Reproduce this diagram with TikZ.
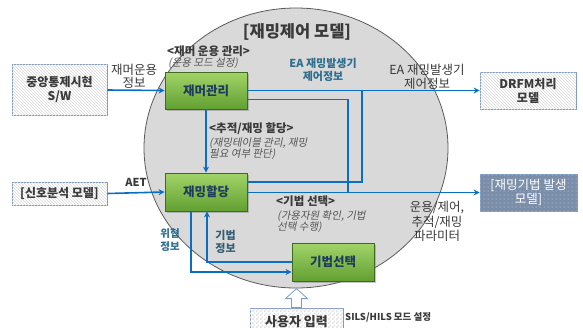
\documentclass[tikz,border=0pt]{standalone}
\usepackage{fontspec}
\setmainfont{Noto Sans CJK KR}[AutoFakeSlant=0.2]
\usetikzlibrary{patterns,shadows,arrows.meta,calc}
\pgfdeclarepatternformonly{smallchecker}{\pgfpointorigin}{\pgfpoint{4pt}{4pt}}{\pgfpoint{4pt}{4pt}}{%
  \pgfpathrectangle{\pgfpointorigin}{\pgfpoint{2pt}{2pt}}%
  \pgfpathrectangle{\pgfpoint{2pt}{2pt}}{\pgfpoint{2pt}{2pt}}%
  \pgfusepath{fill}}
\pgfdeclarepatternformonly{sparsedots}{\pgfpoint{-1pt}{-1pt}}{\pgfpoint{1pt}{1pt}}{\pgfpoint{4pt}{4pt}}{%
  \pgfpathcircle{\pgfpointorigin}{0.5pt}%
  \pgfusepath{fill}}
\definecolor{lnblue}{HTML}{0A6FC2}
\definecolor{circfill}{HTML}{D9D9D9}
\definecolor{circline}{HTML}{5A5A5A}
\definecolor{boxline}{HTML}{7F9CC0}
\definecolor{gtop}{HTML}{A2D468}
\definecolor{gbot}{HTML}{62A032}
\definecolor{gline}{HTML}{3F6B1F}
\definecolor{navy}{HTML}{1F3A5F}
\definecolor{teal}{HTML}{2E6E8E}
\definecolor{dteal}{HTML}{2F5D73}
\definecolor{txt}{HTML}{3A3A3A}
\definecolor{itxt}{HTML}{555555}
\definecolor{slate}{HTML}{7B8EA9}
\tikzset{
  greenbox/.style={draw=gline, line width=0.8pt, top color=gtop, bottom color=gbot,
    minimum width=82pt, minimum height=37pt, inner sep=0pt,
    font=\fontsize{12.5}{14}\selectfont\bfseries, text=navy,
    drop shadow={opacity=0.45, shadow xshift=1.5pt, shadow yshift=-1.5pt}},
  hatchbox/.style={draw=boxline, line width=0.8pt, fill=white,
    postaction={pattern=north west lines, pattern color=gray!30},
    inner sep=0pt, align=center, text=txt,
    font=\fontsize{12}{14}\selectfont\bfseries},
  flow/.style={draw=lnblue, line width=1.6pt},
  flowarrow/.style={flow, -{Stealth[length=6pt,width=6pt]}},
  lbl/.style={align=center, text=txt, font=\fontsize{12.5}{13.5}\selectfont, inner sep=0pt},
  tlbl/.style={align=center, text=teal, font=\fontsize{11}{13}\selectfont\bfseries, inner sep=0pt},
  hd/.style={anchor=west, text=txt, font=\fontsize{11.5}{12}\selectfont\bfseries, inner sep=0pt},
  it/.style={anchor=west, align=left, text=itxt, font=\fontsize{10.5}{11.5}\selectfont\itshape, inner sep=0pt},
}
\begin{document}
\begin{tikzpicture}[x=1pt,y=-1pt]
\useasboundingbox (0,0) rectangle (583,327);
% big circle
\draw[fill=circfill, draw=circline, line width=0.8pt] (296,148) ellipse [x radius=152, y radius=140];
\node[font=\fontsize{16.5}{18}\selectfont\bfseries, text=txt, inner sep=0pt] (title) at (297,32) {[재밍제어 모델]};

% nodes
\node[hatchbox, minimum width=95pt, minimum height=51pt] (cs) at (59.5,90) {중앙통제시현\\S/W};
\node[hatchbox, minimum width=95pt, minimum height=23pt] (sa) at (59.5,193.5) {[신호분석 모델]};
\node[hatchbox, minimum width=96pt, minimum height=37pt] (drfm) at (528,90.5) {DRFM처리\\모델};
\node[draw=boxline, line width=0.8pt, fill=slate, postaction={pattern=sparsedots, pattern color=white!60!slate},
  minimum width=97pt, minimum height=37pt, inner sep=0pt, align=center, text=white,
  font=\fontsize{12.5}{14}\selectfont] (jg) at (528.5,192.5) {[재밍기법 발생\\모델]};
\node[draw=boxline, line width=0.8pt, fill=white, postaction={pattern=smallchecker, pattern color=gray!22},
  minimum width=93pt, minimum height=28pt, inner sep=0pt, text=txt,
  font=\fontsize{13}{14}\selectfont\bfseries] (ui) at (296.5,322) {사용자 입력};

\node[greenbox] (jm) at (206,90.5) {재머관리};
\node[greenbox, minimum height=38pt] (ja) at (206,192) {재밍할당};
\node[greenbox, minimum height=38pt] (gs) at (333,262) {기법선택};

% junction coordinates
\coordinate (jmlow) at ($(jm.east)+(0,9)$);
\coordinate (jahigh) at ($(ja.east)+(0,-10)$);
\coordinate (jaout) at ($(ja.east)+(0,0.5)$);
\coordinate (jgin) at (jg.west);
\coordinate (jaL) at ($(ja.south)+(-15,0)$);
\coordinate (jaR) at ($(ja.south)+(1,0)$);
\coordinate (gsin) at ($(gs.west)+(0,10)$);
\coordinate (gsout) at (gs.west);

% connectors
\draw[flowarrow] (cs.east) -- (jm.west);
\draw[flowarrow] (jm.east) -- (drfm.west);
\draw[flow] (jmlow) -| (348,192.5);
\draw[flow] (jahigh) -| (362,90.5);
\draw[flowarrow] (jaout) -- (jgin);
\draw[flowarrow] (jm.south) -- (ja.north);
\draw[flowarrow] (sa.east) -- (ja.west);
\draw[flowarrow] (jaL) |- (gsin);
\draw[flowarrow] (gsout) -| (jaR);

% hollow input arrow
\draw[draw=boxline, fill=white, line width=0.8pt]
  (ui.north) ++(-5,0) coordinate (ha1) -- ++(0,-9) -- ++(-6,0) -- ++(11,-10) -- ++(11,10) -- ++(-6,0) -- ++(0,9) -- cycle;

% labels
\node[lbl] (l1) at (134,76.5) {재머운용\\정보};
\node[hd] (h1) at (167,51) {<재머 운용 관리>};
\node[it] (i1) at (168,63.5) {(운용 모드 설정)};
\node[tlbl] (l2) at (323,69.5) {EA 재밍발생기\\제어정보};
\node[lbl] (l3) at (427,77) {EA 재밍발생기\\제어정보};
\node[hd] (h2) at (209,129) {<추적/재밍 할당>};
\node[it] (i2) at (209,148.5) {(재밍테이블 관리, 재밍\\필요 여부 판단)};
\node[font=\fontsize{11}{12}\selectfont\bfseries, text=txt, inner sep=0pt] (aet) at (136,182) {AET};
\node[hd] (h3) at (276,201) {<기법 선택>};
\node[it] (i3) at (277,221.5) {(가용자원 확인, 기법\\선택 수행)};
\node[lbl, font=\fontsize{12.5}{14.5}\selectfont] (l4) at (437,221.5) {운용/제어,\\추적/재밍\\파라미터};
\node[tlbl, font=\fontsize{10.5}{13}\selectfont\bfseries] (l5) at (170,240.5) {위협\\정보};
\node[tlbl, text=dteal] (l6) at (225.5,241.5) {기법\\정보};
\node[anchor=west, text=txt, font=\fontsize{9.5}{10}\selectfont\bfseries\itshape, inner sep=0pt] (sh) at (345,317.5) {SILS/HILS 모드 설정};
\end{tikzpicture}
\end{document}
